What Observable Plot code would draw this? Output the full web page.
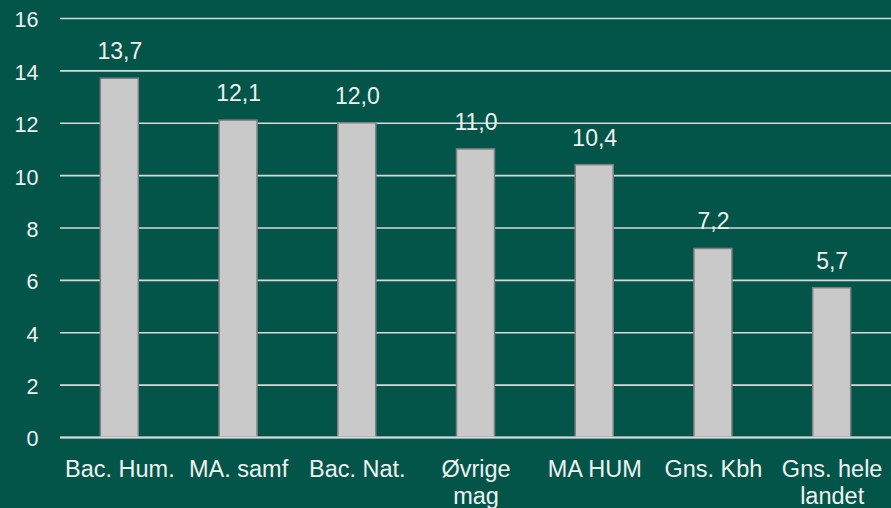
<!DOCTYPE html>
<html>
<head>
<meta charset="utf-8">
<script src="https://cdn.jsdelivr.net/npm/d3@7"></script>
<script src="https://cdn.jsdelivr.net/npm/@observablehq/plot@0.6"></script>
<style>
  html, body { margin: 0; padding: 0; background: #03554A; }
  #chart svg { display: block; }
</style>
</head>
<body>
<div id="chart"></div>
<script>
const categories = ["Bac. Hum.", "MA. samf", "Bac. Nat.", "Øvrige\nmag", "MA HUM", "Gns. Kbh", "Gns. hele\nlandet"];
const values = [13.7, 12.1, 12.0, 11.0, 10.4, 7.2, 5.7];
const yTicks = [0, 2, 4, 6, 8, 10, 12, 14, 16];

const data = categories.map((c, i) => ({category: c, value: values[i]}));
const fmt = v => v.toFixed(1).replace(".", ",");
const textColor = "#eef2f0";

const chart = Plot.plot({
  width: 891,
  height: 508,
  marginLeft: 60,
  marginRight: 0,
  marginTop: 18,
  marginBottom: 71,
  style: {background: "#03554A", color: textColor, fontFamily: "'Liberation Sans', Arial, sans-serif"},
  x: {domain: categories, paddingInner: 0.68, paddingOuter: 0.34, round: false, label: null},
  y: {domain: [0, 16], label: null},
  marks: [
    Plot.ruleY(yTicks, {stroke: "#d9d9d9", strokeWidth: 1.6}),
    Plot.barY(data, {x: "category", y: "value", fill: "#c9c9c9", stroke: "#808080", strokeWidth: 1.5}),
    Plot.ruleY([0], {stroke: "#d9d9d9", strokeWidth: 2}),
    Plot.text(data, {x: "category", y: "value", text: d => fmt(d.value), dy: -27, fill: textColor, fontSize: 23}),
    Plot.axisY({ticks: yTicks, tickSize: 0, tickPadding: 22, fontSize: 21.5, dy: 2, color: textColor, label: null}),
    Plot.axisX({tickSize: 0, tickPadding: 20, fontSize: 23.5, lineHeight: 1.15, color: textColor, label: null})
  ]
});
document.getElementById("chart").appendChild(chart);
</script>
</body>
</html>
